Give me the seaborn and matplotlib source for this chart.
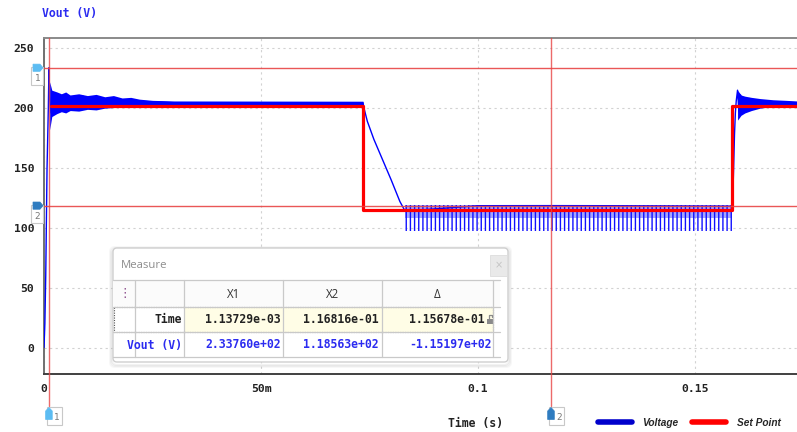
import matplotlib
matplotlib.use("Agg")
import matplotlib.pyplot as plt
from matplotlib.patches import FancyBboxPatch, Rectangle, Polygon
from matplotlib.lines import Line2D
import pandas as pd
import seaborn as sns

# ---------------- waveform data (time in s, voltage in V) ----------------
vout_time = [0.0, 0.0002, 0.0004, 0.0007, 0.0010, 0.00114, 0.0013, 0.0016, 0.0022,
             0.0030, 0.0045, 0.0060, 0.0090, 0.0130, 0.0200, 0.0300, 0.0500, 0.0735,
             0.0738, 0.0745, 0.0760, 0.0780, 0.0800, 0.0820, 0.0832, 0.1000, 0.1168156,
             0.1300, 0.1584, 0.1587, 0.1589, 0.1591, 0.1593, 0.1595, 0.1598, 0.1601,
             0.1605, 0.1612, 0.1625, 0.1650, 0.1700, 0.1735]
vout_volts = [0, 20, 60, 150, 200, 233.76, 210, 196, 212,
              199, 211, 198, 210, 200, 206, 204.5, 204.5, 204.5,
              199, 189, 174, 157, 140, 122, 114, 118.5, 118.563,
              118.5, 118, 125, 150, 178, 196, 206, 215, 197,
              211, 199, 208, 202, 205, 204.5]

# ripple envelope after start-up, settling at the high set point
ring1_time = [0.0013, 0.0018, 0.0030, 0.0040, 0.0050, 0.0060, 0.0080, 0.0100, 0.0120,
              0.0140, 0.0160, 0.0180, 0.0200, 0.0220, 0.0250, 0.0300, 0.0735]
ring1_upper = [222, 215, 213.5, 212, 213.5, 211, 212, 210.5, 211.5,
               209.5, 210.5, 208.5, 209, 207.5, 206.5, 206, 205.8]
ring1_lower = [182, 193, 195.5, 197, 196, 198, 197.5, 199, 198.5,
               200, 200.5, 201, 201.5, 202, 202.5, 203, 203]

# switching ripple while regulating at the low set point
low_time = [0.0832, 0.1586]
low_upper = [119.5, 119.5]
low_body = [108, 108]
low_floor = [97, 97]

# ringing after the step back up
ring2_time = [0.1598, 0.1602, 0.1606, 0.1615, 0.1630, 0.1650, 0.1680, 0.1710, 0.1735]
ring2_upper = [215, 213, 211, 210, 209, 208, 207, 206.5, 206]
ring2_lower = [190, 192, 194, 196, 198, 200, 201.5, 202.5, 203]

# set point reference
setpoint_time = [0.0015, 0.0736, 0.1585, 0.1735]
setpoint_volts = [202, 115, 202, 202]

# measurement cursors
cursor_time = [1.137294e-03, 1.168156e-01]
cursor_volts = [2.33760e+02, 1.18563e+02]
cursor_tab_colors = ["#5cbcf2", "#2f7cc0"]

x_ticks = [0, 0.05, 0.1, 0.15]
x_tick_labels = ["0", "50m", "0.1", "0.15"]
y_ticks = [0, 50, 100, 150, 200, 250]

W, H = 797, 432
BLUE = "#0000ff"
RED = "#ff0000"
CURSOR = "#e84545"
MONO = "DejaVu Sans Mono"

sns.set_style("white")
plt.rcParams["font.family"] = ["DejaVu Sans"]
plt.rcParams["hatch.linewidth"] = 1.0

fig = plt.figure(figsize=(W / 100, H / 100), dpi=100)
ax = fig.add_axes([44 / W, 1 - 374 / H, 1 - 44 / W, (374 - 38) / H])

# ---------------- traces ----------------
ax.fill_between(ring1_time, ring1_lower, ring1_upper, color=BLUE, lw=0, zorder=2)
ax.fill_between(ring2_time, ring2_lower, ring2_upper, color=BLUE, lw=0, zorder=2)
ax.fill_between(low_time, low_body, low_upper, color="#6a6aff", alpha=0.6, lw=0, zorder=2)
ax.fill_between(low_time, low_floor, low_upper, facecolor="none", edgecolor="#1010ff",
                hatch="||||", linewidth=0, zorder=2)

trace = pd.DataFrame({"t": vout_time, "v": vout_volts})
sns.lineplot(data=trace, x="t", y="v", ax=ax, color=BLUE, lw=1.0,
             estimator=None, sort=False, zorder=3)

sp = pd.DataFrame({"t": setpoint_time, "v": setpoint_volts})
sns.lineplot(data=sp, x="t", y="v", ax=ax, color=RED, lw=2.3,
             estimator=None, sort=False, drawstyle="steps-post", zorder=4)

# ---------------- cursors ----------------
for t in cursor_time:
    ax.plot([t, t], [1.0, -0.095], transform=ax.get_xaxis_transform(),
            color=CURSOR, lw=1.0, alpha=0.8, clip_on=False, zorder=6)
for v in cursor_volts:
    ax.axhline(v, color=CURSOR, lw=1.0, alpha=0.9, zorder=6)

# ---------------- axes styling ----------------
ax.set_xlim(0, 0.1735)
ax.set_ylim(-22.1, 258.6)
ax.set_xticks(x_ticks)
ax.set_xticklabels(x_tick_labels)
ax.set_yticks(y_ticks)
ax.set_yticklabels([str(v) for v in y_ticks])
ax.tick_params(length=0, pad=7, labelsize=8.2, labelcolor="#222222")
for lab in ax.get_xticklabels() + ax.get_yticklabels():
    lab.set_fontfamily(MONO)
    lab.set_fontweight("bold")
ax.set_xlabel("")
ax.set_ylabel("")
ax.grid(True, color="#d2d2d2", linestyle=(0, (2, 3)), lw=0.8)
ax.set_axisbelow(True)
ax.spines["right"].set_visible(False)
ax.spines["left"].set_color("#707070")
ax.spines["top"].set_color("#8a8a8a")
ax.spines["bottom"].set_color("#404040")
for s in ("left", "top", "bottom"):
    ax.spines[s].set_linewidth(1.4)

fig.text(42 / W, 1 - 14 / H, "Vout (V)", family=MONO, weight="bold", fontsize=8.3,
         color="#2b2bf0", ha="left", va="center")
fig.text(476 / W, 1 - 424 / H, "Time (s)", family=MONO, weight="bold", fontsize=8.3,
         color="#222222", ha="center", va="center")

legend_handles = [Line2D([], [], color="#0000cc", lw=4), Line2D([], [], color=RED, lw=4)]
fig.legend(legend_handles, ["Voltage", "Set Point"], loc="center left",
           bbox_to_anchor=(598 / W, 1 - 423 / H), bbox_transform=fig.transFigure,
           ncol=2, frameon=False, borderpad=0, borderaxespad=0,
           handlelength=3.4, handletextpad=1.0, columnspacing=1.3,
           prop={"family": ["Liberation Sans Narrow", "Liberation Sans"],
                 "weight": "bold", "style": "italic", "size": 7.3})

# ---------------- overlay in pixel coordinates ----------------
ov = fig.add_axes([0, 0, 1, 1], zorder=10)
ov.set_xlim(0, W)
ov.set_ylim(H, 0)
ov.axis("off")
ov.patch.set_alpha(0)

fig.canvas.draw()


def to_px(t, v):
    x, y = ax.transData.transform((t, v))
    return x, H - y


# cursor handles on the left edge and below the axis
for i, (t, v) in enumerate(zip(cursor_time, cursor_volts)):
    xv, yh = to_px(t, v)
    col = cursor_tab_colors[i]
    ov.add_patch(Rectangle((31, yh - 1), 12, 18, fc="white", ec="#c8c8c8", lw=0.8))
    ov.add_patch(Polygon([(33, yh - 3.6), (40, yh - 3.6), (43, yh), (40, yh + 3.6), (33, yh + 3.6)],
                         closed=True, fc=col, ec=col, lw=0.5))
    ov.text(37.5, yh + 11, str(i + 1), fontsize=6.5, color="#777777", ha="center", va="center")

    ov.add_patch(Rectangle((xv - 2, 407), 15, 18, fc="white", ec="#c8c8c8", lw=0.8))
    ov.add_patch(Polygon([(xv - 3.3, 419.5), (xv - 3.3, 411), (xv, 407.5), (xv + 3.3, 411), (xv + 3.3, 419.5)],
                         closed=True, fc=col, ec=col, lw=0.5))
    ov.text(xv + 8, 417, str(i + 1), fontsize=6.5, color="#777777", ha="center", va="center")

# ---------------- measure panel ----------------
px0, py0, pw, ph = 113, 248, 395, 114
for k, a in enumerate([0.05, 0.04, 0.03]):
    ov.add_patch(FancyBboxPatch((px0 - 1 - k, py0 - 1 - k + 2), pw + 2 + 2 * k, ph + 2 + 2 * k,
                                boxstyle="round,pad=0,rounding_size=5",
                                fc="none", ec=(0, 0, 0, a), lw=1.5))
ov.add_patch(FancyBboxPatch((px0, py0), pw, ph, boxstyle="round,pad=0,rounding_size=4",
                            fc="white", ec="#cfcfcf", lw=1.0))
ov.text(121, 265, "Measure", fontsize=8.2, color="#8c8c8c", ha="left", va="center",
        family="Open Sans")
ov.add_patch(Rectangle((490, 255), 17, 21, fc="#e9e9e9", ec="#dddddd", lw=0.6))
ov.text(498.5, 265.5, "×", fontsize=7, color="#c4c4c4", ha="center", va="center")

col_edges = [113, 135, 184, 283, 382, 493]
row_edges = [280, 307, 332, 357]
# header row
ov.add_patch(Rectangle((113, 280), 387, 27, fc="#fbfbfb", ec="none"))
# pale yellow value cells of the time row
ov.add_patch(Rectangle((184, 307), 309, 25, fc="#fffde6", ec="none"))
for y in row_edges:
    ov.plot([113, 500], [y, y], color="#c9c9c9", lw=0.9)
for x in col_edges[1:]:
    ov.plot([x, x], [280, 357], color="#c9c9c9", lw=0.9)
# selected-row outline
ov.add_patch(Rectangle((114, 307), 379, 25, fc="none", ec="#555555", lw=0.8,
                       linestyle=(0, (1, 1.2))))

ov.text(124.5, 293.5, "⋮", fontsize=9, color="#8a4a8a", ha="center", va="center")
header = ["X1", "X2", "Δ"]
for j, h in enumerate(header):
    xc = (col_edges[j + 2] + col_edges[j + 3]) / 2
    ov.text(xc, 294.5, h, fontsize=8.3, color="#333333", ha="center", va="center",
            family="Open Sans")

time_vals = [cursor_time[0], cursor_time[1], cursor_time[1] - cursor_time[0]]
volt_vals = [cursor_volts[0], cursor_volts[1], cursor_volts[1] - cursor_volts[0]]
right_edges = [281, 379, 485]
ov.text(182, 319.5, "Time", family=MONO, weight="bold", fontsize=8.3, color="#222222",
        ha="right", va="center")
ov.text(182, 345, "Vout (V)", family=MONO, weight="bold", fontsize=8.3, color="#2b2bf0",
        ha="right", va="center")
for j in range(3):
    ov.text(right_edges[j], 319.5, f"{time_vals[j]:.5e}", family=MONO, weight="bold",
            fontsize=8.3, color="#222222", ha="right", va="center")
    ov.text(right_edges[j] if j < 2 else 492, 345, f"{volt_vals[j]:.5e}", family=MONO,
            weight="bold", fontsize=8.3, color="#2b2bf0", ha="right", va="center")

# small padlock next to the delta time
ov.add_patch(Rectangle((487.5, 318.5), 5.5, 5, fc="#8a8a8a", ec="none"))
ov.plot([488.6, 488.6, 491.9, 491.9], [318.5, 315.2, 315.2, 316.5], color="#8a8a8a", lw=0.9)

fig.savefig("out.png", dpi=100)
